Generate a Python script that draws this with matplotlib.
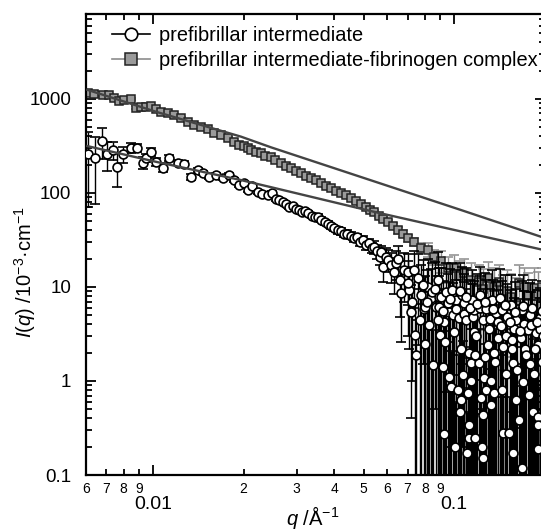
import numpy as np
import matplotlib
matplotlib.use("Agg")
import matplotlib.pyplot as plt
from matplotlib.ticker import FuncFormatter, NullFormatter, FixedLocator, FixedFormatter

plt.rcParams["font.family"] = ["Liberation Sans", "DejaVu Sans"]
plt.rcParams["mathtext.fontset"] = "custom"
plt.rcParams["mathtext.rm"] = "Liberation Sans"
plt.rcParams["mathtext.it"] = "Liberation Sans:italic"

# prefibrillar intermediate (circles)
circ_q = [0.00607, 0.00641, 0.00676, 0.00703, 0.00735, 0.00763, 0.00799, 0.00845, 0.00885, 0.00924,
          0.00948, 0.00985, 0.01023, 0.01077, 0.01130, 0.01208, 0.01265, 0.01338, 0.01408, 0.01462,
          0.01535, 0.01619, 0.01704, 0.01789, 0.01858, 0.01931, 0.0200, 0.0207, 0.0214, 0.0223,
          0.0231, 0.0241, 0.0248, 0.0256, 0.0263, 0.0270, 0.0277, 0.0284, 0.0291, 0.0298,
          0.0306, 0.0313, 0.0320, 0.0328, 0.0336, 0.0345, 0.0353, 0.0362, 0.0372, 0.0381,
          0.0390, 0.0400, 0.0410, 0.0420, 0.0431, 0.0442, 0.0453, 0.0465, 0.0476, 0.0487,
          0.0498, 0.0510, 0.0522, 0.0532, 0.0542, 0.0555, 0.0565, 0.0572, 0.0580, 0.0593,
          0.0604, 0.0615, 0.0631, 0.0640, 0.0651, 0.0660, 0.0667, 0.0680, 0.0703, 0.0705,
          0.0719, 0.0736, 0.0738, 0.0748, 0.0759, 0.0777, 0.0795, 0.0797, 0.0800, 0.0820,
          0.0822, 0.0839, 0.0841, 0.0851, 0.0873, 0.0885, 0.0887, 0.0892, 0.0894, 0.0906,
          0.0920, 0.0922, 0.0928, 0.0940, 0.0955, 0.0957, 0.0962, 0.0977, 0.0980, 0.0990,
          0.1000, 0.1002, 0.1016, 0.1031, 0.1039, 0.1041, 0.1054, 0.1056, 0.1060, 0.1070,
          0.1079, 0.1080, 0.1096, 0.1098, 0.1113, 0.1115, 0.1120, 0.1121, 0.1138, 0.1140,
          0.1145, 0.1150, 0.1164, 0.1166, 0.1168, 0.1180, 0.1210, 0.1215, 0.1220, 0.1230,
          0.1232, 0.1246, 0.1248, 0.1250, 0.1255, 0.1260, 0.1277, 0.1279, 0.1293, 0.1310,
          0.1327, 0.1329, 0.1331, 0.1350, 0.1353, 0.1380, 0.1394, 0.1400, 0.1420, 0.1443,
          0.1445, 0.1447, 0.1452, 0.1480, 0.1489, 0.1500, 0.1523, 0.1547, 0.1550, 0.1569,
          0.1571, 0.1579, 0.1600, 0.1607, 0.1620, 0.1640, 0.1670, 0.1672, 0.1675, 0.1694,
          0.1700, 0.1720, 0.1752, 0.1766, 0.1780, 0.1790, 0.1800, 0.1820, 0.1838, 0.1860,
          0.1894, 0.1896, 0.1898, 0.1900, 0.1920, 0.1930, 0.1960, 0.1970,
          # extra points in the crowded high-q cloud
          0.0700, 0.0725, 0.0770, 0.0785, 0.0810, 0.0860, 0.0880, 0.0915, 0.0935, 0.0968,
          0.1010, 0.1045, 0.1090, 0.1130, 0.1175, 0.1190, 0.1265, 0.1300, 0.1340, 0.1370,
          0.1430, 0.1470, 0.1530, 0.1560, 0.1590, 0.1650, 0.1690, 0.1735, 0.1810, 0.1850,
          0.1880, 0.1950]
circ_I = [260, 236, 360, 260, 286, 190, 260, 302, 302, 210,
          236, 273, 215, 186, 236, 210, 205, 148, 176, 164,
          148, 155, 145, 155, 137, 122, 128, 107, 118, 102,
          97, 95, 100, 86, 84, 80, 76, 70, 72, 67,
          66, 62, 64, 61, 57, 55, 56, 52, 49, 47,
          44, 42, 40, 39, 37, 37, 35, 33, 34, 30,
          31.5, 28, 29, 26, 26.5, 24, 21, 23.5, 16.3, 21,
          19.5, 17, 14.4, 18, 20, 11.8, 8.6, 15, 14.4, 9.2,
          5.4, 15, 3.1, 1.9, 12.4, 8.2, 5.9, 2.5, 6.1, 10,
          3.9, 7.6, 8.8, 1.48, 6.1, 11.8, 6.1, 7.8, 3.1, 7.8,
          1.4, 0.27, 4.2, 8.8, 6.7, 1.1, 5.4, 0.87, 9.2, 5.0,
          3.3, 0.2, 7.3, 0.8, 4.7, 0.47, 2.2, 0.63, 8.2, 1.15,
          6.7, 5.2, 4.4, 0.17, 0.74, 0.34, 2.0, 0.25, 1.0, 1.55,
          7.3, 4.8, 5.7, 3.3, 0.25, 3.0, 1.55, 8.2, 6.0, 0.66,
          0.2, 4.4, 0.43, 0.15, 1.07, 1.8, 5.9, 0.8, 2.4, 4.6,
          1.0, 0.55, 7.3, 2.0, 0.74, 5.3, 2.9, 4.2, 7.6, 5.7,
          0.8, 0.28, 2.3, 3.0, 1.2, 4.8, 0.28, 6.4, 2.2, 1.55,
          0.17, 3.6, 4.5, 0.63, 1.3, 0.38, 2.9, 0.12, 5.7, 0.98,
          4.0, 2.2, 3.5, 0.71, 1.5, 5.0, 3.9, 0.47, 1.2, 3.2,
          2.4, 0.41, 0.34, 0.19, 3.6, 4.7, 1.6, 3.0,
          11, 7, 4.5, 10.5, 7.0, 9.5, 4.5, 5.5, 2.6, 7.5,
          5.8, 9.0, 7.8, 6.0, 1.9, 6.6, 7.0, 3.6, 5.8, 1.6,
          3.8, 6.5, 4.2, 2.7, 5.4, 3.4, 6.3, 1.9, 6.0, 2.2,
          4.2, 5.5]
circ_err = [190, 160, 130, 90, 60, 75, 50, 35, 30, 30,
            25, 25, 20, 20, 15, 12, 12, 10, 10, 9,
            8, 8, 7, 7, 6, 6, 6, 5, 5, 5,
            5, 4, 4, 4, 4, 4, 4, 3, 3, 3,
            3, 3, 3, 3, 3, 3, 3, 3, 3, 3,
            3, 3, 3, 3, 3, 3, 3, 3, 3, 3,
            3, 3, 3, 3, 4, 4, 4, 4, 5, 5,
            5, 6, 6, 6, 7, 7, 6, 8, 8, 7,
            5, 9, 3.5, 2.5, 10, 9, 7, 3, 7, 10,
            5, 8, 9, 2, 7, 12, 7, 8, 4, 8,
            2, 0.5, 5, 9, 7, 1.5, 6, 1.2, 9, 6,
            4, 0.4, 8, 1.1, 5, 0.7, 3, 0.9, 8, 1.5,
            7, 6, 5, 0.3, 1, 0.5, 2.5, 0.4, 1.3, 2,
            8, 6, 6, 4, 0.4, 4, 2, 8, 7, 0.9,
            0.3, 5, 0.6, 0.3, 1.4, 2.5, 6, 1.1, 3, 5,
            1.3, 0.8, 8, 2.5, 1, 6, 3.5, 5, 8, 6,
            1.1, 0.4, 3, 4, 1.6, 6, 0.4, 7, 3, 2,
            0.3, 4, 5, 0.9, 1.7, 0.5, 3.5, 0.2, 6, 1.3,
            5, 3, 4, 1, 2, 6, 5, 0.7, 1.6, 4,
            3, 0.6, 0.5, 0.3, 4, 5, 2, 4,
            8, 6, 5, 9, 8, 9, 5, 6, 3, 8,
            6, 9, 8, 6, 2.5, 7, 7, 4, 6, 2,
            4, 7, 5, 3, 6, 4, 7, 2.5, 6, 3,
            5, 6]

# prefibrillar intermediate-fibrinogen complex (squares)
sq_q = [0.00607, 0.00637, 0.00681, 0.00714, 0.00742, 0.00771, 0.00801, 0.00845, 0.00878, 0.00912,
        0.00948, 0.00985, 0.01023, 0.01063, 0.01119, 0.01177, 0.01239, 0.01304, 0.01368, 0.01443,
        0.01520, 0.01594, 0.01682, 0.01771, 0.01863, 0.01931, 0.0200, 0.0207, 0.0212, 0.0220,
        0.0228, 0.0236, 0.0246, 0.0255, 0.0266, 0.0276, 0.0287, 0.0298, 0.0310, 0.0322,
        0.0334, 0.0347, 0.0361, 0.0375, 0.0390, 0.0405, 0.0420, 0.0437, 0.0454, 0.0471,
        0.0490, 0.0508, 0.0525, 0.0542, 0.0562, 0.0582, 0.0604, 0.0625, 0.0651, 0.0675,
        0.0703, 0.0735, 0.0777, 0.0820, 0.0858, 0.0906, 0.0955, 0.1000, 0.1040, 0.1079,
        0.1140, 0.1205, 0.1250, 0.1293, 0.1350, 0.1410, 0.1452, 0.1500, 0.1547, 0.1600,
        0.1640, 0.1705, 0.1760, 0.1838, 0.1900, 0.1960]
sq_I = [1167, 1130, 1100, 1100, 1020, 955, 970, 1000, 810, 828,
        828, 840, 783, 733, 705, 676, 624, 574, 530, 507,
        476, 438, 414, 383, 351, 324, 318, 298, 286, 272,
        267, 250, 242, 226, 210, 195, 185, 172, 163, 152,
        145, 136, 128, 119, 113, 105, 100, 94, 88.5, 82,
        76, 70, 66, 63, 57, 53, 49, 45, 40, 37,
        33, 30, 26, 25, 21, 19, 16, 16, 13, 14,
        12, 11.3, 9.5, 12.5, 10, 11.3, 7.3, 9, 7.8, 6.4,
        11, 10, 8, 9.8, 8.5, 10]
sq_err = [60, 50, 45, 40, 35, 30, 30, 28, 25, 22,
          20, 20, 18, 16, 15, 14, 12, 11, 10, 10,
          9, 8, 8, 7, 7, 6, 6, 6, 6, 5,
          5, 5, 5, 5, 4, 4, 4, 4, 4, 3,
          3, 3, 3, 3, 3, 3, 3, 3, 3, 3,
          3, 3, 3, 3, 3, 3, 3, 3, 3, 3,
          3, 3, 3, 4, 4, 5, 5, 6, 6, 6,
          6, 6, 6, 6, 6, 6, 6, 6, 6, 6,
          6, 6, 6, 6, 6, 6]

# fitted curves
fit_q = [0.00606, 0.0102, 0.0196, 0.0247, 0.0530, 0.105, 0.195, 0.21]
fit_hi = [1250, 733, 397, 305, 136, 66, 34, 31.5]
fit_lo = [315, 215, 137, 115, 64, 39, 25, 23.5]

x_major = [0.01, 0.1]
x_minor = [0.006, 0.007, 0.008, 0.009, 0.02, 0.03, 0.04, 0.05, 0.06, 0.07, 0.08, 0.09]
y_major = [0.1, 1, 10, 100, 1000]

fig = plt.figure(figsize=(5.41, 5.30), dpi=100)
ax = fig.add_axes([86 / 541, 1 - 475 / 530, 459 / 541, 461 / 530])
ax.set_xscale("log")
ax.set_yscale("log")

ax.errorbar(sq_q, sq_I, yerr=sq_err, fmt="s", ms=5.8, mfc="#9a9a9a", mec="#222222", mew=1.1,
            ecolor="#8c8c8c", elinewidth=1.0, capsize=3.5, capthick=1.0, zorder=2)
ax.errorbar(circ_q, circ_I, yerr=circ_err, fmt="o", ms=6.4, mfc="white", mec="black", mew=1.2,
            ecolor="black", elinewidth=1.0, capsize=3.5, capthick=1.0, zorder=3)
ax.plot(fit_q, fit_hi, color="#444444", lw=1.7, zorder=4)
ax.plot(fit_q, fit_lo, color="#444444", lw=1.7, zorder=4)

# legend handles
h1, = ax.plot([], [], "-o", color="black", ms=9, mfc="white", mec="black", mew=1.2, lw=1.2)
h2, = ax.plot([], [], "-s", color="#8c8c8c", ms=8, mfc="#9a9a9a", mec="#222222", mew=1.1, lw=1.2)
ax.legend([h1, h2], ["prefibrillar intermediate", "prefibrillar intermediate-fibrinogen complex"],
          loc="upper left", bbox_to_anchor=(0.057, 0.975), frameon=False, fontsize=14.4,
          handlelength=1.9, handletextpad=0.45, labelspacing=0.3, borderpad=0, borderaxespad=0)

ax.set_xlim(0.006, 0.2)
ax.set_ylim(0.1, 8000)

ax.xaxis.set_major_locator(FixedLocator(x_major))
ax.xaxis.set_major_formatter(FixedFormatter(["0.01", "0.1"]))
ax.xaxis.set_minor_locator(FixedLocator(x_minor))
ax.xaxis.set_minor_formatter(FuncFormatter(lambda v, p: "%d" % round(v / 10 ** np.floor(np.log10(v) + 1e-9))))
ax.yaxis.set_major_locator(FixedLocator(y_major))
ax.yaxis.set_major_formatter(FixedFormatter(["0.1", "1", "10", "100", "1000"]))
ax.yaxis.set_minor_locator(FixedLocator([m * d for d in [0.1, 1, 10, 100, 1000] for m in range(2, 10)]))
ax.yaxis.set_minor_formatter(NullFormatter())

ax.tick_params(which="both", direction="in", top=True, right=True, width=1.3)
ax.tick_params(which="major", length=7)
ax.tick_params(which="minor", length=4)
ax.tick_params(axis="x", which="major", labelsize=14, pad=15)
ax.tick_params(axis="x", which="minor", labelsize=10, pad=5)
ax.tick_params(axis="y", which="major", labelsize=13.5, pad=10.5)
for s in ax.spines.values():
    s.set_linewidth(1.6)

ax.set_xlabel(r"$q$ /Å$^{-1}$", fontsize=14.5)
ax.xaxis.set_label_coords(0.495, -0.063)
ax.xaxis.label.set_va("top")
ax.set_ylabel(r"$I$($q$) /10$^{-3}$·cm$^{-1}$", fontsize=14.5)
ax.yaxis.set_label_coords(-0.105, 0.44)

fig.savefig("out.png", dpi=100)
